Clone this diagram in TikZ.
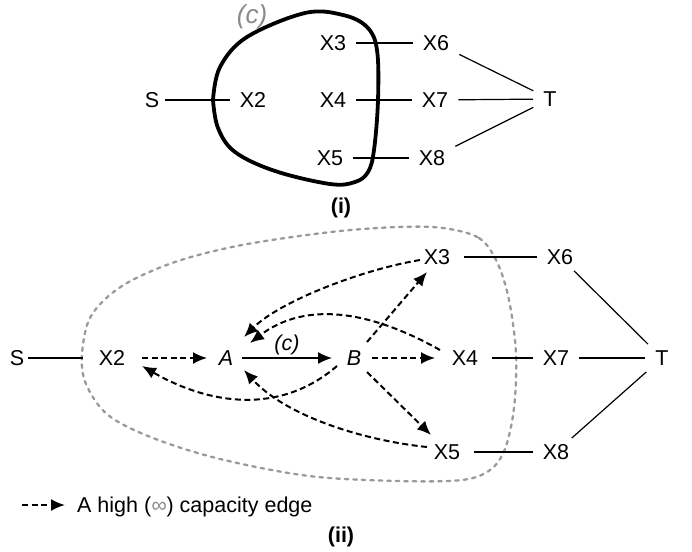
\documentclass[tikz,border=0pt]{standalone}
\usepackage{fontspec}
\setmainfont{Liberation Sans}
\usetikzlibrary{arrows.meta,calc}
\definecolor{curvegray}{HTML}{9A9A9A}
\definecolor{cgray}{HTML}{8A8A8A}
\begin{document}
\begin{tikzpicture}[x=1pt,y=-1pt,
  lbl/.style={font=\fontsize{21.5}{26}\selectfont, inner xsep=10pt, inner ysep=6pt, text height=15.4pt, text depth=0pt},
  edgeline/.style={line width=1.2pt},
  inf/.style={line width=2pt, dash pattern=on 6pt off 3.5pt, -{Latex[length=14pt,width=12pt]}},
  solidarrow/.style={line width=1.4pt, -{Latex[length=14pt,width=12pt]}},
  blob/.style={line width=3.8pt, line join=round},
  cutcurve/.style={curvegray, line width=2.3pt, dash pattern=on 3.5pt off 5pt, line cap=round},
  caption/.style={font=\fontsize{21.5}{26}\selectfont\bfseries}
]
\useasboundingbox (0,0) rectangle (692,551);

% ---------- (i) ----------
\node[lbl] (tS) at (152,100) {S};
\node[lbl] (tX2) at (253,100) {X2};
\node[lbl] (tX3) at (333,43) {X3};
\node[lbl] (tX4) at (333,100) {X4};
\node[lbl] (tX5) at (330,158) {X5};
\node[lbl] (tX6) at (436,43) {X6};
\node[lbl] (tX7) at (435,100) {X7};
\node[lbl] (tX8) at (432,158) {X8};
\node[lbl] (tT) at (550,99) {T};

\draw[edgeline, shorten <=-4pt] (tS) -- (tX2);
\draw[edgeline] (tX3) -- (tX6);
\draw[edgeline] (tX4) -- (tX7);
\draw[edgeline] (tX5) -- (tX8);
\draw[edgeline] (tX6) -- (tT);
\draw[edgeline] (tX7) -- (tT);
\draw[edgeline] (tX8) -- (tT);

\draw[blob] plot[smooth, tension=0.6] coordinates {(213,100) (220,67) (247,37) (305,13) (343,15) (367,27) (377,50) (378,100) (374,150) (368,172) (355,182) (330,184) (275,171) (235,152) (218,128) (213,100)};

\node[font=\fontsize{26}{30}\selectfont\itshape, text=cgray] (ctop) at (252,17) {(c)};
\node[caption] (capi) at (341,208) {(i)};

% ---------- (ii) ----------
\draw[cutcurve] plot[smooth cycle, tension=0.55] coordinates {(443,228) (479,238) (497,262) (509,300) (516,354) (514,408) (505,449) (490,470) (462,480) (398,481) (309,476) (220,459) (153,438) (108,415) (86,384) (82,354) (91,316) (122,286) (175,262) (242,245) (331,232) (398,227)};

\node[lbl] (S) at (17,358) {S};
\node[lbl] (X2) at (112,358) {X2};
\node[lbl, font=\fontsize{21.5}{26}\selectfont\itshape] (A) at (226,358) {A};
\node[lbl, font=\fontsize{21.5}{26}\selectfont\itshape] (B) at (354,358) {B};
\node[lbl] (X3) at (437,257) {X3};
\node[lbl] (X4) at (465,358) {X4};
\node[lbl] (X5) at (447,452) {X5};
\node[lbl] (X6) at (560,257) {X6};
\node[lbl] (X7) at (556,358) {X7};
\node[lbl] (X8) at (556,452) {X8};
\node[lbl] (T) at (662,358) {T};

\draw[edgeline, shorten <=-6pt, shorten >=6pt] (S) -- (X2);
\draw[edgeline, shorten <=4pt] (X3) -- (X6);
\draw[edgeline, shorten <=4pt] (X4) -- (X7);
\draw[edgeline, shorten <=4pt] (X5) -- (X8);
\draw[edgeline] (X6) -- (T);
\draw[edgeline] (X7) -- (T);
\draw[edgeline] (X8) -- (T);

\draw[inf] ($(X2)+(30,0)$) -- ($(A)+(-19,0)$);
\draw[solidarrow] ($(A)+(16,0)$) -- node[above=1pt, font=\fontsize{21.5}{26}\selectfont\itshape, inner sep=1pt] (clab) {(c)} ($(B)+(-22,0)$);
\draw[inf] ($(B)+(18,0)$) -- ($(X4)+(-30,0)$);
\draw[inf] ($(B)+(13,-16)$) -- ($(X3)+(-10,15)$);
\draw[inf] ($(B)+(13,14)$) -- ($(X5)+(-16,-17)$);
\draw[inf] ($(X3)+(-17,3)$) .. controls (360,270) and (279,302) .. ($(A)+(18,-21)$);
\draw[inf] ($(X4)+(-25,-8)$) .. controls (360,305) and (300,305) .. ($(A)+(24,-15)$);
\draw[inf] ($(B)+(-17,8)$) .. controls (280,415) and (210,405) .. ($(X2)+(30,8)$);
\draw[inf] ($(X5)+(-20,-5)$) .. controls (360,440) and (285,415) .. ($(A)+(18,12)$);

% legend
\coordinate (L1) at (22,505);
\node[lbl, anchor=west, inner xsep=0pt] (leg) at (77,505) {A high (\textcolor{cgray}{\itshape ∞}) capacity edge};
\draw[inf, shorten >=12pt] (L1) -- (leg.west);
\node[caption] (capii) at (341,537) {(ii)};
\end{tikzpicture}
\end{document}
